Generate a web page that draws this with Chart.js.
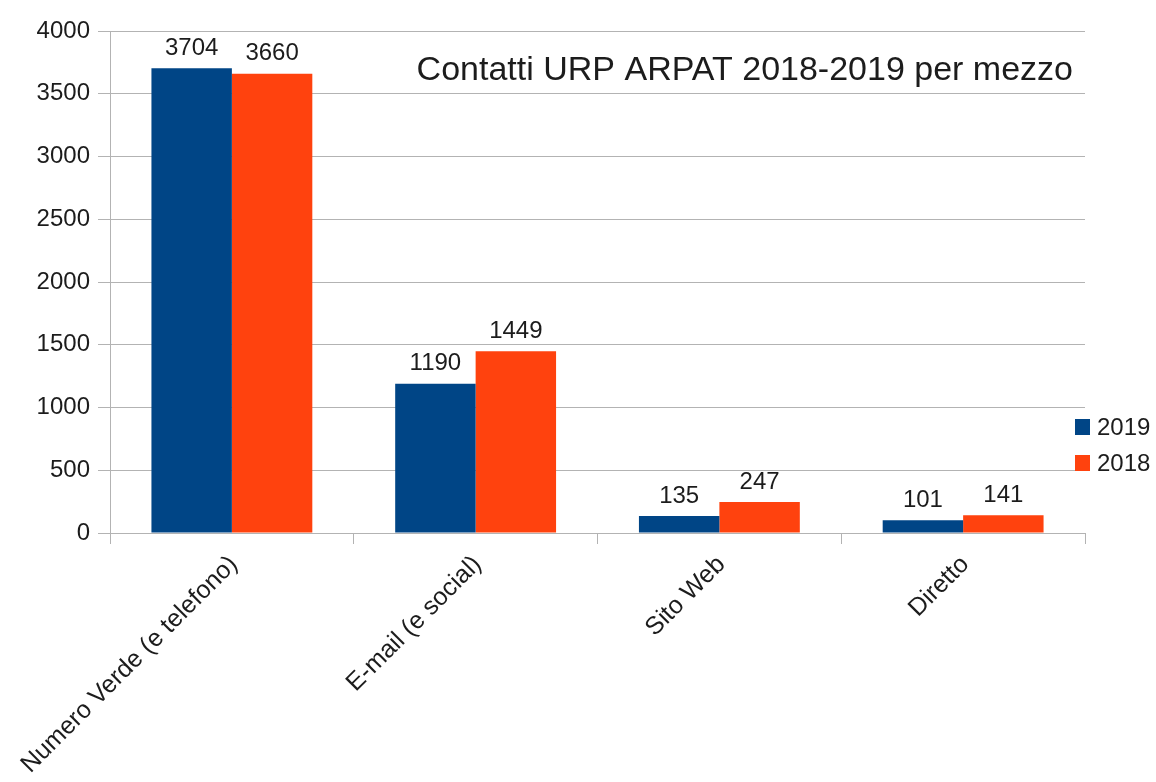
<!DOCTYPE html>
<html>
<head>
<meta charset="utf-8">
<script src="https://cdn.jsdelivr.net/npm/chart.js@4/dist/chart.umd.min.js"></script>
<style>
  html, body { margin: 0; padding: 0; background: #fff; }
  #wrap { width: 1156px; height: 782px; position: relative; }
</style>
</head>
<body>
<div id="wrap"><canvas id="urp"></canvas></div>
<script>
// Contatti URP per mezzo, confronto 2019 / 2018
const categories = ['Numero Verde (e telefono)', 'E-mail (e social)', 'Sito Web', 'Diretto'];
const values2019 = [3704, 1190, 135, 101];
const values2018 = [3660, 1449, 247, 141];
const seriesNames = ['2019', '2018'];
const yTicks = [0, 500, 1000, 1500, 2000, 2500, 3000, 3500, 4000];

const BLUE = '#004586';
const ORANGE = '#ff420e';
const GRID = '#b3b3b3';
const INK = '#1c1c1c';
const FONT = '"Liberation Sans", Arial, sans-serif';

// numbers above every bar
const barLabels = {
  id: 'barLabels',
  afterDatasetsDraw(chart) {
    const ctx = chart.ctx;
    ctx.save();
    ctx.font = '24px ' + FONT;
    ctx.fillStyle = INK;
    ctx.textAlign = 'center';
    ctx.textBaseline = 'bottom';
    chart.data.datasets.forEach((ds, i) => {
      chart.getDatasetMeta(i).data.forEach((bar, j) => {
        ctx.fillText(String(ds.data[j]), bar.x, bar.y - 8);
      });
    });
    ctx.restore();
  }
};

// title inside the plot, top right
const innerTitle = {
  id: 'innerTitle',
  afterDraw(chart) {
    const ctx = chart.ctx;
    const a = chart.chartArea;
    ctx.save();
    ctx.font = '34px ' + FONT;
    ctx.fillStyle = INK;
    ctx.textAlign = 'right';
    ctx.textBaseline = 'alphabetic';
    ctx.fillText('Contatti URP ARPAT 2018-2019 per mezzo', a.right - 12, a.top + 49);
    ctx.restore();
  }
};

// small square legend to the right of the plot
const sideLegend = {
  id: 'sideLegend',
  afterDraw(chart) {
    const ctx = chart.ctx;
    const a = chart.chartArea;
    ctx.save();
    ctx.font = '24px ' + FONT;
    ctx.textBaseline = 'middle';
    ctx.textAlign = 'left';
    chart.data.datasets.forEach((ds, i) => {
      const cy = 427 + i * 36;
      ctx.fillStyle = ds.backgroundColor;
      ctx.fillRect(a.right - 10, cy - 8, 15, 16);
      ctx.fillStyle = INK;
      ctx.fillText(ds.label, a.right + 12, cy + 1);
    });
    ctx.restore();
  }
};

new Chart(document.getElementById('urp'), {
  type: 'bar',
  data: {
    labels: categories,
    datasets: [
      { label: seriesNames[0], data: values2019, backgroundColor: BLUE },
      { label: seriesNames[1], data: values2018, backgroundColor: ORANGE }
    ]
  },
  options: {
    responsive: true,
    maintainAspectRatio: false,
    animation: false,
    layout: { padding: { top: 31, right: 71, left: 0, bottom: 0 } },
    datasets: { bar: { categoryPercentage: 0.66, barPercentage: 1 } },
    plugins: { legend: { display: false }, tooltip: { enabled: false } },
    scales: {
      x: {
        grid: {
          offset: true,
          color: c => (c.index === 0 || c.index === categories.length) ? GRID : 'rgba(0,0,0,0)',
          tickColor: GRID,
          tickLength: 11
        },
        border: { color: GRID },
        ticks: {
          minRotation: 45, maxRotation: 45, autoSkip: false,
          color: INK, font: { family: FONT, size: 25 }, padding: 6,
          labelOffset: 2
        },
        afterFit(s) { s.height = 249; }
      },
      y: {
        min: 0, max: 4000,
        afterBuildTicks(s) { s.ticks = yTicks.map(v => ({ value: v })); },
        grid: { color: GRID, tickLength: 12 },
        border: { color: GRID },
        ticks: {
          color: INK, font: { family: FONT, size: 24 }, padding: 8,
          callback: v => String(v)
        },
        afterFit(s) { s.width = 110; }
      }
    }
  },
  plugins: [barLabels, innerTitle, sideLegend]
});
</script>
</body>
</html>
